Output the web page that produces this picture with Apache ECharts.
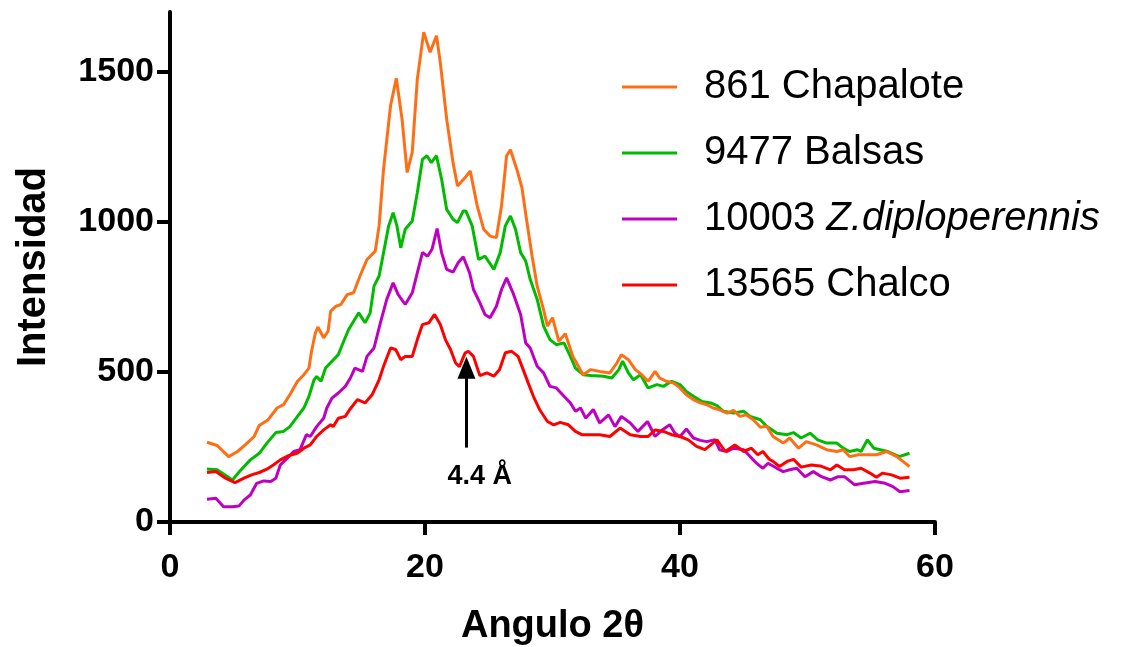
<!DOCTYPE html>
<html>
<head>
<meta charset="utf-8">
<title>Angulo 2θ</title>
<script src="https://cdn.jsdelivr.net/npm/echarts/dist/echarts.min.js"></script>
<style>
html,body{margin:0;padding:0;background:#fff;}
#main{width:1130px;height:647px;}
</style>
</head>
<body>
<div id="main"></div>
<script>
// nombres y colores de las muestras
var seriesNames = ['861 Chapalote', '9477 Balsas', '10003 Z.diploperennis', '13565 Chalco'];
var seriesColors = ['#ff6e14', '#00bb00', '#c000c0', '#ff0000'];

// difractogramas [angulo 2θ, intensidad]
var chapalote = [[2.9,266],[3.7,255],[4.6,218],[5.3,235],[5.9,257],[6.6,285],[7.0,322],[7.7,341],[8.4,380],[8.9,391],[9.4,424],[10.0,469],[10.5,491],[10.9,513],[11.1,569],[11.4,630],[11.6,650],[12.05,614],[12.4,636],[12.6,703],[13.0,719],[13.4,725],[13.9,758],[14.4,764],[14.9,820],[15.45,875],[16.1,903],[16.4,987],[16.75,1176],[17.3,1388],[17.75,1479],[18.2,1343],[18.6,1165],[19.0,1232],[19.4,1477],[19.9,1633],[20.4,1566],[20.9,1621],[21.2,1532],[21.7,1343],[22.2,1198],[22.55,1120],[23.15,1148],[23.55,1170],[24.1,1053],[24.6,976],[25.1,953],[25.6,948],[26.0,1053],[26.4,1221],[26.7,1241],[27.2,1176],[27.6,1115],[28.0,998],[28.4,886],[28.8,786],[29.3,708],[29.6,653],[30.0,681],[30.5,602],[31.0,628],[31.6,552],[32.4,491],[33.0,508],[33.7,502],[34.5,497],[35.05,530],[35.4,558],[35.95,541],[36.5,508],[37.0,491],[37.5,469],[38.05,502],[38.4,480],[38.95,469],[39.5,463],[40.0,447],[40.5,424],[41.05,408],[41.6,397],[42.1,391],[42.6,380],[43.1,374],[43.7,363],[44.2,372],[44.7,352],[45.2,357],[45.75,341],[46.3,316],[46.8,319],[47.3,285],[48.1,263],[48.6,280],[49.3,246],[49.9,268],[50.7,257],[51.5,241],[52.3,235],[52.8,241],[53.3,218],[54.0,224],[54.6,224],[55.4,224],[56.2,235],[57.0,218],[58.0,185]];
var balsas = [[2.9,177],[3.7,174],[4.9,140],[5.5,171],[6.3,207],[7.0,229],[7.6,263],[8.3,298],[8.9,302],[9.4,318],[10.0,352],[10.5,380],[10.9,419],[11.3,474],[11.5,485],[11.85,469],[12.2,513],[12.7,536],[13.2,558],[13.6,600],[14.0,641],[14.4,669],[14.8,697],[15.3,664],[15.7,697],[16.0,786],[16.4,820],[16.75,898],[17.15,987],[17.5,1031],[17.8,987],[18.1,914],[18.45,976],[19.0,1003],[19.4,1098],[19.8,1209],[20.15,1221],[20.5,1198],[20.9,1221],[21.3,1143],[21.7,1042],[22.2,1009],[22.55,998],[23.0,1037],[23.2,1037],[23.7,987],[24.2,875],[24.7,886],[25.4,842],[25.9,898],[26.3,987],[26.7,1020],[27.1,976],[27.5,898],[27.9,870],[28.25,809],[28.8,742],[29.3,653],[29.8,608],[30.3,591],[30.9,597],[31.4,552],[31.8,513],[32.4,491],[33.0,488],[34.0,486],[34.65,480],[35.2,508],[35.5,536],[35.95,497],[36.35,474],[36.9,491],[37.5,447],[38.2,458],[38.7,452],[39.35,469],[40.0,458],[40.5,435],[41.05,419],[41.7,402],[42.4,397],[42.9,388],[43.4,369],[44.2,363],[45.0,369],[45.5,352],[46.3,341],[46.8,319],[47.6,296],[48.4,291],[48.9,298],[49.5,280],[50.2,296],[50.8,274],[51.5,263],[52.3,263],[52.8,246],[53.3,235],[53.9,241],[54.2,235],[54.7,274],[55.2,246],[55.7,241],[56.3,235],[57.2,218],[58.0,229]];
var diploperennis = [[2.9,76],[3.6,79],[4.2,51],[4.9,51],[5.4,53],[5.8,73],[6.3,90],[6.8,129],[7.35,137],[7.9,135],[8.3,146],[8.65,190],[9.2,213],[9.7,235],[10.2,241],[10.7,291],[11.0,285],[11.5,318],[12.05,346],[12.3,380],[12.7,413],[13.2,430],[13.75,452],[14.15,480],[14.5,513],[15.1,502],[15.45,552],[16.0,580],[16.5,664],[17.0,742],[17.5,797],[17.9,758],[18.45,725],[19.0,764],[19.4,831],[19.8,898],[20.2,886],[20.55,909],[20.95,978],[21.3,898],[21.7,842],[22.2,833],[22.6,864],[23.0,884],[23.5,830],[23.8,775],[24.3,731],[24.7,692],[25.1,681],[25.6,719],[26.0,775],[26.4,814],[26.9,764],[27.5,692],[27.9,597],[28.25,580],[28.8,519],[29.3,497],[29.8,452],[30.3,447],[30.9,419],[31.4,397],[31.8,369],[32.2,380],[32.6,346],[33.2,375],[33.7,330],[34.4,357],[34.9,318],[35.4,352],[36.1,330],[36.7,302],[37.45,335],[38.05,285],[38.6,307],[39.2,324],[39.6,296],[40.0,285],[40.5,310],[41.05,280],[41.6,272],[42.1,268],[42.75,274],[43.1,241],[43.7,235],[44.2,246],[45.0,241],[45.5,218],[46.0,196],[46.5,179],[46.9,196],[47.6,179],[48.1,168],[48.6,174],[49.15,179],[49.8,151],[50.45,168],[51.1,151],[51.8,140],[52.4,151],[52.9,151],[53.7,124],[54.4,129],[55.3,135],[56.1,129],[56.7,118],[57.25,101],[58.0,105]];
var chalco = [[2.9,165],[3.6,168],[4.35,146],[5.1,131],[5.8,146],[6.4,157],[7.0,165],[7.6,176],[8.1,190],[8.65,207],[9.3,221],[10.0,230],[10.5,246],[11.0,257],[11.5,285],[12.05,307],[12.6,324],[12.8,318],[13.2,346],[13.75,352],[14.1,375],[14.7,408],[15.3,397],[15.85,424],[16.4,474],[16.75,519],[17.3,580],[17.7,575],[18.1,541],[18.45,552],[19.0,552],[19.4,608],[19.8,658],[20.3,664],[20.75,692],[21.2,658],[21.6,608],[22.0,575],[22.4,530],[22.7,518],[23.15,564],[23.4,569],[23.8,552],[24.3,488],[24.85,497],[25.4,486],[25.85,508],[26.3,564],[26.8,569],[27.3,552],[27.7,508],[28.1,463],[28.5,419],[29.0,374],[29.6,335],[30.1,324],[30.6,332],[31.25,324],[31.8,302],[32.3,291],[33.0,291],[33.7,291],[34.5,285],[35.3,313],[36.1,291],[36.9,285],[37.5,285],[38.05,307],[38.7,302],[39.35,291],[40.0,285],[40.65,274],[41.3,252],[41.95,241],[42.9,274],[43.55,235],[44.3,257],[45.0,235],[45.6,246],[46.1,224],[46.5,235],[47.0,209],[47.3,202],[47.8,185],[48.4,202],[48.9,209],[49.5,183],[50.3,190],[51.0,187],[51.8,174],[52.3,190],[52.9,174],[53.6,174],[54.2,179],[54.9,163],[55.4,149],[55.9,163],[56.6,157],[57.25,146],[58.0,149]];

// marcas de los ejes
var xTicks = [0, 20, 40, 60];
var yTicks = [0, 500, 1000, 1500];

// flecha del pico 4.4 Å
var arrowX = 23.25;
var arrowFrom = 248;
var arrowTo = 514;
var noteText = '4.4 Å';
var notePos = [24.3, 150];

var font = 'Liberation Sans';

function lineSeries(idx, data){
	return {
		name: seriesNames[idx],
		type: 'line',
		data: data,
		symbol: 'none',
		smooth: false,
		color: seriesColors[idx],
		lineStyle: {width: 3, color: seriesColors[idx]},
		emphasis: {disabled: true}
	};
}

var myChart = echarts.init(document.getElementById('main'));

// Balsas primero, Chalco encima (orden de dibujo)
var sBalsas = lineSeries(1, balsas);
var sChapalote = lineSeries(0, chapalote);
var sDiplo = lineSeries(2, diploperennis);
var sChalco = lineSeries(3, chalco);

sChalco.markLine = {
	silent: true,
	symbol: ['none', 'triangle'],
	symbolSize: [18, 22],
	label: {show: false},
	lineStyle: {color: '#000', width: 3, type: 'solid'},
	data: [[{coord: [arrowX, arrowFrom]}, {coord: [arrowX, arrowTo]}]]
};
sChalco.markPoint = {
	silent: true,
	symbol: 'rect',
	symbolSize: 0,
	label: {
		show: true,
		formatter: noteText,
		color: '#000',
		fontFamily: font,
		fontWeight: 'bold',
		fontSize: 27
	},
	data: [{coord: notePos}]
};

var option = {
	animation: false,
	backgroundColor: '#fff',
	grid: {left: 170, right: 195, top: 12, bottom: 125, outerBoundsMode: 'none'},
	legend: {
		orient: 'vertical',
		left: 617,
		top: 59,
		data: seriesNames,
		icon: 'rect',
		itemWidth: 55,
		itemHeight: 3,
		itemGap: 20,
		selectedMode: false,
		formatter: function(name){
			var k = name.indexOf(' ');
			if (name.indexOf('Z.') > -1) {
				return '{n|' + name.substring(0, k + 1) + '}{i|' + name.substring(k + 1) + '}';
			}
			return name;
		},
		textStyle: {
			fontFamily: font,
			fontSize: 40,
			lineHeight: 46,
			color: '#000',
			padding: [0, 0, 0, 22],
			rich: {
				n: {fontFamily: font, fontSize: 40, lineHeight: 46, color: '#000'},
				i: {fontFamily: font, fontSize: 40, lineHeight: 46, color: '#000', fontStyle: 'italic'}
			}
		}
	},
	xAxis: {
		type: 'value',
		min: xTicks[0],
		max: xTicks[xTicks.length - 1],
		interval: 20,
		name: 'Angulo 2θ',
		nameLocation: 'middle',
		nameGap: 86,
		nameTextStyle: {fontFamily: font, fontWeight: 'bold', fontSize: 38, color: '#000'},
		axisLine: {show: true, lineStyle: {color: '#000', width: 4}},
		axisTick: {show: true, length: 13, lineStyle: {color: '#000', width: 4}},
		axisLabel: {margin: 29, fontFamily: font, fontWeight: 'bold', fontSize: 34, color: '#000'},
		splitLine: {show: false}
	},
	yAxis: {
		type: 'value',
		min: 0,
		max: 1700,
		name: 'Intensidad',
		nameLocation: 'middle',
		nameGap: 116,
		nameTextStyle: {fontFamily: font, fontWeight: 'bold', fontSize: 40, color: '#000'},
		axisLine: {show: true, lineStyle: {color: '#000', width: 4}},
		axisTick: {show: true, length: 13, customValues: yTicks, lineStyle: {color: '#000', width: 4}},
		axisLabel: {
			margin: 16,
			customValues: yTicks,
			formatter: function(v){ return String(v); },
			fontFamily: font, fontWeight: 'bold', fontSize: 34, color: '#000'
		},
		splitLine: {show: false}
	},
	series: [sBalsas, sChapalote, sDiplo, sChalco]
};

myChart.setOption(option);
</script>
</body>
</html>
